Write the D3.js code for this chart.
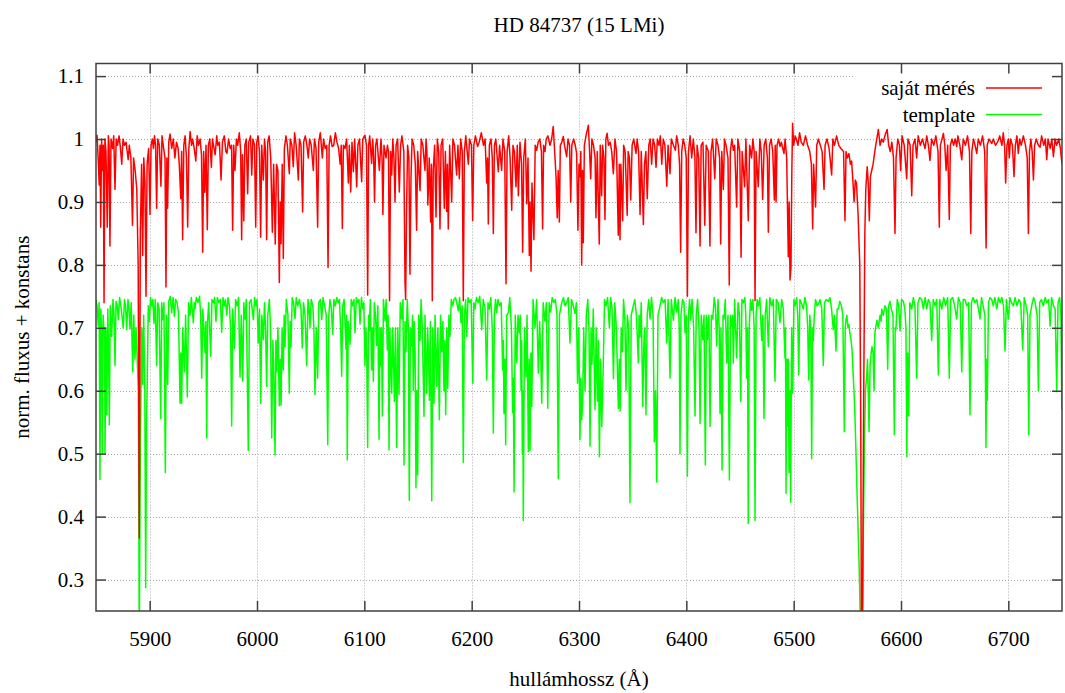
<!DOCTYPE html>
<html>
<head>
<meta charset="utf-8">
<script src="https://cdn.jsdelivr.net/npm/d3@7"></script>
<style>
  body { margin: 0; background: #fff; }
  svg text { font-family: "Liberation Serif", "Times New Roman", serif; fill: #000; }
</style>
</head>
<body>
<div id="chart"></div>
<script>
const title = "HD 84737 (15 LMi)";
const xLabel = "hullámhossz (Å)";
const yLabel = "norm. fluxus + konstans";
const seriesNames = ["saját mérés", "template"];
const xTicks = [5900, 6000, 6100, 6200, 6300, 6400, 6500, 6600, 6700];
const yTicks = [0.3, 0.4, 0.5, 0.6, 0.7, 0.8, 0.9, 1.0, 1.1];
const yTickLabels = ["0.3", "0.4", "0.5", "0.6", "0.7", "0.8", "0.9", "1", "1.1"];

// own measurement: [wavelength, flux]
const ownSpectrum = [[5850,0.995],[5851,1.006],[5852,0.97],[5853,0.927],[5853.7,0.99],[5854.4,0.86],[5855.2,1.0],[5856,0.95],[5856.8,0.99],[5857.5,0.74],[5858.3,1.0],[5859.3,0.98],[5860.5,0.86],[5861.5,1.005],[5862.2,0.99],[5863,0.83],[5864,1.0],[5865.5,0.985],[5866.5,1.005],[5867.7,0.92],[5868.8,1.0],[5870,0.99],[5871.5,1.005],[5872.8,0.985],[5874,0.96],[5875.2,1.0],[5876.5,0.99],[5878,0.995],[5880,0.967],[5881,0.99],[5882.5,0.97],[5884,0.863],[5885,0.97],[5886.5,0.95],[5888,0.92],[5889.3,0.8],[5890.3,0.366],[5891.3,0.85],[5892.5,0.96],[5893.5,0.815],[5894.5,0.97],[5895.6,0.93],[5896.6,0.75],[5897.6,0.96],[5899,0.985],[5900.3,0.88],[5901.3,0.99],[5902.5,1.0],[5903.5,0.985],[5904.5,1.005],[5905.5,0.99],[5906.5,0.89],[5907.5,1.0],[5909,0.99],[5910.5,0.925],[5911.5,1.005],[5913,0.985],[5914.3,0.97],[5915.2,0.765],[5916,0.97],[5916.7,0.89],[5917.8,0.995],[5919,1.008],[5920.5,0.985],[5922,1.0],[5923.5,0.97],[5925,0.995],[5926.5,0.985],[5927.6,0.96],[5929,0.905],[5929.8,0.98],[5930.7,0.84],[5931.8,0.99],[5933,1.005],[5934.3,0.97],[5935.4,0.86],[5936.5,0.985],[5937.7,1.012],[5939,0.99],[5940,1.0],[5941.5,0.985],[5943,0.965],[5944.3,1.005],[5945.5,0.99],[5947,1.0],[5948.3,0.975],[5949.4,0.82],[5950.3,0.98],[5951.4,0.915],[5952.5,0.99],[5953.7,0.856],[5954.7,0.99],[5956,1.0],[5957.5,0.955],[5958.5,1.0],[5960,0.985],[5961,0.975],[5962.5,1.005],[5963.5,0.99],[5965,0.995],[5966.5,0.935],[5967.8,0.995],[5969.5,1.005],[5971,0.98],[5972,0.977],[5973.5,1.0],[5975,0.985],[5976.3,0.99],[5977.3,0.855],[5978.3,0.99],[5979.5,0.95],[5980.8,1.0],[5982,0.99],[5983.5,1.01],[5984.8,0.98],[5985.7,0.84],[5986.5,0.975],[5987.7,0.87],[5988.7,0.99],[5990,1.0],[5991.3,0.913],[5992.3,0.995],[5994,1.005],[5995.1,0.943],[5996.2,1.0],[5997.7,0.99],[5998.8,0.86],[5999.8,0.995],[6001,1.005],[6002.3,0.98],[6003.4,0.844],[6004.4,0.99],[6005.9,0.935],[6007,1.0],[6008,0.98],[6009,0.84],[6010,0.995],[6011.3,1.005],[6012.8,0.97],[6014.3,0.852],[6015.5,0.96],[6017,0.833],[6018.2,0.96],[6019.5,0.95],[6020.8,0.772],[6021.6,0.9],[6022.4,0.834],[6023.5,0.96],[6024.5,0.81],[6025.5,0.985],[6027,1.005],[6028.3,0.99],[6030.1,0.945],[6031,1.0],[6032.5,0.99],[6033.8,0.956],[6035,1.01],[6036.5,0.99],[6038.5,0.935],[6039.5,1.0],[6041,0.99],[6042.5,0.884],[6043.5,0.995],[6045,1.005],[6046.5,0.99],[6047.8,0.97],[6049,1.0],[6050.5,0.99],[6052.5,0.95],[6053.5,1.0],[6055,0.985],[6056.5,0.86],[6057.5,0.995],[6059,1.01],[6060.9,0.97],[6062,1.0],[6063.5,0.985],[6065,0.99],[6066.2,0.796],[6067.2,0.99],[6068.5,1.005],[6070,0.988],[6071.5,0.99],[6073,1.01],[6074.5,0.995],[6076,0.985],[6077.5,0.96],[6078.5,0.99],[6079.5,0.858],[6080.5,0.99],[6082,0.985],[6083.5,1.0],[6085.1,0.93],[6086,0.99],[6087.3,0.916],[6088.5,0.995],[6089.8,0.948],[6091,1.0],[6092.9,0.924],[6094,0.99],[6095.5,1.0],[6097.5,0.932],[6098.5,1.0],[6100.5,1.006],[6102,0.99],[6103.1,0.752],[6104,0.99],[6105,1.005],[6106.8,0.961],[6107.8,1.0],[6108.7,0.97],[6109.5,0.9],[6110.5,0.99],[6111.7,1.0],[6114,0.95],[6115.5,1.0],[6116.5,0.97],[6117.3,0.88],[6118.3,0.99],[6120.2,0.97],[6121.5,0.99],[6122.5,0.98],[6123.5,0.743],[6124.5,0.98],[6125.5,0.943],[6126.5,1.0],[6127.6,0.97],[6128.6,0.9],[6129.6,0.99],[6131,1.0],[6132.6,0.916],[6133.8,0.99],[6135,1.005],[6136.8,0.98],[6137.9,0.772],[6138.5,0.745],[6139.3,0.88],[6140.3,0.99],[6141.5,0.97],[6142.5,0.785],[6143.5,0.94],[6144.5,1.0],[6146,0.99],[6147.5,0.96],[6148.7,0.855],[6149.7,0.98],[6151.9,0.918],[6153,1.0],[6154.5,0.99],[6156.5,0.95],[6157.5,1.0],[6158.3,0.98],[6159.2,0.895],[6160.5,0.97],[6161.8,0.868],[6162.5,0.96],[6163.3,0.743],[6164.2,0.95],[6165.5,0.99],[6166.8,0.876],[6168,1.0],[6169.3,0.98],[6170.5,0.857],[6171.5,0.99],[6173,1.0],[6174.5,0.89],[6175.5,0.98],[6176.7,0.885],[6177.4,0.96],[6178.2,0.857],[6179.5,0.99],[6181.4,0.9],[6182.5,1.0],[6184,0.99],[6186,0.943],[6187.2,0.99],[6188.5,0.937],[6189.8,1.0],[6191.2,0.98],[6192.2,0.743],[6193.2,0.98],[6194.5,1.005],[6196.9,0.96],[6198,1.0],[6199.8,0.99],[6200.9,0.87],[6202,0.99],[6203.5,1.005],[6205.5,0.988],[6207,0.995],[6209,1.01],[6211,0.99],[6212.5,1.0],[6214,0.93],[6214.8,0.97],[6215.5,0.865],[6216.5,0.99],[6218,1.0],[6219.2,0.97],[6220.2,0.85],[6221.2,0.99],[6222.5,1.0],[6224.8,0.948],[6226,0.99],[6227.9,0.95],[6229.2,1.0],[6230.8,0.98],[6232,0.77],[6233,0.98],[6234.5,1.005],[6235.8,0.97],[6237.3,0.887],[6238.5,0.99],[6239.8,0.98],[6241.3,0.924],[6242.5,0.99],[6243.5,0.91],[6245,0.995],[6246.5,0.96],[6247.5,0.82],[6248.5,0.97],[6250,1.0],[6251.3,0.897],[6252.5,0.97],[6253.7,0.815],[6254.4,0.9],[6255.3,0.79],[6256.2,0.93],[6258,0.84],[6259.2,0.99],[6260.5,0.982],[6262,0.995],[6263.5,1.0],[6265,0.98],[6266.1,0.857],[6267,0.99],[6268.3,0.98],[6269.5,1.0],[6271,1.005],[6273,0.99],[6274.5,1.0],[6276,1.02],[6277,0.99],[6278.6,0.94],[6279.7,0.875],[6280.6,0.95],[6281.7,0.868],[6282.6,0.99],[6284,0.995],[6285.4,1.004],[6286.5,0.99],[6288.5,0.972],[6289.8,1.0],[6291.2,0.99],[6292.3,0.9],[6293.3,0.99],[6295,1.0],[6296.5,0.99],[6297.8,0.977],[6299,0.855],[6300,0.96],[6301,0.94],[6301.7,0.98],[6302.5,0.8],[6303.3,0.95],[6304,0.835],[6305,0.99],[6306.5,1.005],[6308.7,1.022],[6309.6,0.99],[6310.9,0.937],[6312,1.0],[6313.5,0.99],[6315,0.97],[6315.8,0.875],[6317,0.98],[6318.9,0.833],[6319.8,0.99],[6321.1,0.91],[6322,0.99],[6323.2,0.97],[6324.2,0.872],[6325,1.0],[6326.2,1.009],[6327.5,0.99],[6329,0.995],[6330.5,0.98],[6332,0.945],[6333.5,1.0],[6335,0.98],[6336.6,0.847],[6337.5,0.96],[6338.2,0.84],[6339,0.96],[6340.7,0.87],[6341.6,0.99],[6343,0.98],[6344.9,0.879],[6345.8,0.98],[6347,0.97],[6348.2,0.903],[6349.5,0.99],[6351,1.0],[6353.1,0.977],[6354.2,1.0],[6355.5,0.98],[6356.9,0.88],[6358,0.98],[6360,0.864],[6361,0.96],[6362.3,0.98],[6363.6,0.905],[6365,0.99],[6366.3,1.0],[6367.7,0.96],[6369,1.0],[6370.5,0.99],[6371.8,0.955],[6373,1.0],[6374.5,0.99],[6375.8,1.005],[6377.1,0.96],[6378.5,1.0],[6380,0.99],[6381.8,0.925],[6383,0.99],[6384.8,0.945],[6386,1.0],[6388,0.99],[6389.8,0.982],[6391,1.005],[6392.5,0.99],[6393.7,0.96],[6394.7,0.82],[6395.7,0.98],[6397,1.0],[6398.5,0.99],[6399.9,0.97],[6401,0.75],[6402,0.98],[6403.5,1.005],[6405,0.97],[6406.5,1.0],[6408,0.97],[6409,0.851],[6410,0.99],[6411.5,0.97],[6412.8,0.83],[6413.8,0.99],[6415.5,0.995],[6417.2,0.863],[6418.5,0.99],[6420.5,0.98],[6422,0.83],[6423,0.98],[6424.5,1.0],[6426.5,0.937],[6427.8,1.0],[6429.5,0.99],[6431,0.97],[6432,0.833],[6433,0.98],[6434.5,0.92],[6435.5,1.0],[6437,0.99],[6438.8,0.97],[6440,0.768],[6441,0.98],[6442.4,1.0],[6443.8,0.982],[6445,0.99],[6446.9,0.892],[6448,1.0],[6449.8,0.98],[6451,0.812],[6452,0.98],[6454.3,0.924],[6455.5,1.0],[6457.7,0.87],[6459,0.99],[6460.8,0.97],[6462,1.0],[6463.2,0.98],[6464,0.743],[6465,0.98],[6467,0.924],[6468.5,1.0],[6469.8,0.98],[6471.1,0.904],[6472.5,0.99],[6474,1.0],[6475.5,0.97],[6476.4,0.852],[6477.5,0.99],[6479,1.0],[6480.5,0.98],[6482,0.903],[6482.8,0.99],[6483.6,0.9],[6484.5,0.99],[6486,1.0],[6487.3,0.988],[6488.5,0.995],[6491,0.977],[6492,1.0],[6493.5,0.97],[6495,0.813],[6495.8,0.9],[6496.6,0.776],[6497.5,0.796],[6498.3,0.95],[6499,1.025],[6500,0.99],[6501.5,1.005],[6502.8,0.998],[6504,0.99],[6505.5,1.01],[6507,0.995],[6509,0.99],[6511,1.005],[6513,0.99],[6515,0.98],[6516.5,0.96],[6517.7,0.857],[6518.6,0.96],[6520.4,0.892],[6521.5,0.99],[6523,1.0],[6524.8,0.99],[6526.5,0.98],[6528.3,0.92],[6529.3,0.99],[6531,1.0],[6533,0.985],[6535.4,0.943],[6536.5,1.0],[6538,0.99],[6540,1.005],[6542,0.99],[6544,0.985],[6546.5,0.98],[6547.8,0.87],[6548.8,0.98],[6550,0.97],[6551.5,0.977],[6552.8,0.96],[6554,0.965],[6555.3,0.93],[6556.3,0.9],[6557.4,0.935],[6558.5,0.93],[6560,0.88],[6561.6,0.8],[6562.5,0.55],[6563.1,0.24],[6564.1,0.23],[6565.3,0.6],[6566.3,0.85],[6567.2,0.92],[6568.5,0.956],[6569.5,0.93],[6570.5,0.87],[6571.5,0.94],[6572.7,0.95],[6574,0.96],[6574.8,0.97],[6576,0.985],[6577.4,1.0],[6578.9,1.015],[6580.5,0.99],[6582,1.0],[6583.5,0.995],[6585,1.005],[6587.1,1.015],[6588.5,0.99],[6590,0.98],[6591.5,0.995],[6593,0.97],[6594.4,0.85],[6595.4,0.97],[6597,1.0],[6598.5,0.99],[6599.7,0.95],[6601,1.005],[6603,0.99],[6605.3,0.937],[6606.5,1.0],[6608.5,0.99],[6610,0.91],[6611.2,0.99],[6613,1.0],[6614.6,0.97],[6616,1.005],[6618,0.99],[6620,1.0],[6622.4,0.985],[6624,1.005],[6625.5,0.99],[6627,0.966],[6628.5,1.0],[6630.5,0.99],[6632.5,1.005],[6634.5,0.98],[6635.7,0.86],[6636.7,0.99],[6639.5,1.009],[6640.8,0.99],[6642,0.95],[6643.5,0.99],[6645,0.872],[6646,0.99],[6647.5,1.0],[6649,0.99],[6650.5,1.0],[6651.9,0.988],[6653,1.005],[6654.8,0.99],[6656.6,0.967],[6658,1.0],[6660,0.99],[6662,1.005],[6663.8,0.98],[6665,0.85],[6666,0.98],[6667.5,1.0],[6669,0.99],[6670.6,0.977],[6672,1.0],[6674,0.99],[6676,1.005],[6678,0.98],[6679.3,0.827],[6680.3,0.99],[6682,1.0],[6684.5,0.993],[6686,1.0],[6688,0.99],[6690,0.995],[6692,1.005],[6694,0.99],[6695.3,1.01],[6696.5,0.99],[6697.5,0.93],[6698.7,0.99],[6700,1.0],[6700.9,0.97],[6702,1.0],[6703.8,0.99],[6705.3,0.94],[6706.5,0.99],[6708,1.005],[6709.3,0.977],[6710.5,1.0],[6712,0.99],[6714,1.005],[6716,0.99],[6717.6,0.97],[6718.7,0.85],[6719.7,0.98],[6721,1.0],[6722.2,0.98],[6723.4,0.935],[6724.5,0.99],[6726,1.0],[6728,0.99],[6729.6,0.987],[6731,1.005],[6733,0.99],[6734.5,1.0],[6735.8,0.967],[6737,1.0],[6739,0.985],[6740.5,1.0],[6742,0.972],[6743.5,1.0],[6745,0.99],[6747,1.0],[6748.5,0.985],[6750,0.96]];

// template spectrum (shifted by a constant): [wavelength, flux]
const templateSpectrum = [[5850,0.745],[5851,0.735],[5852.1,0.703],[5852.9,0.74],[5853.7,0.459],[5854.5,0.73],[5855.2,0.7],[5855.9,0.5],[5856.7,0.72],[5857.5,0.689],[5858,0.7],[5858.4,0.5],[5859.2,0.7],[5860,0.562],[5861,0.73],[5861.7,0.66],[5862.4,0.546],[5863.3,0.735],[5864.6,0.686],[5865.8,0.745],[5866.8,0.72],[5867.7,0.64],[5868.7,0.742],[5869.8,0.735],[5870.8,0.713],[5872,0.748],[5873.5,0.73],[5875.4,0.7],[5876.5,0.745],[5877.5,0.735],[5878.6,0.697],[5879.8,0.745],[5880.8,0.73],[5881.7,0.698],[5882.8,0.74],[5884.2,0.63],[5885.2,0.72],[5886.3,0.65],[5887.3,0.7],[5888.5,0.645],[5889.5,0.6],[5890.3,0.2],[5891.1,0.45],[5891.9,0.6],[5892.6,0.7],[5893.5,0.61],[5894.4,0.72],[5895.5,0.6],[5896.3,0.287],[5897.1,0.55],[5897.8,0.62],[5898.7,0.735],[5899.7,0.71],[5900.8,0.748],[5902,0.735],[5903,0.745],[5904,0.707],[5905.2,0.745],[5906.5,0.64],[5907.5,0.74],[5908.8,0.73],[5910.3,0.556],[5911.2,0.74],[5912.1,0.713],[5913.3,0.74],[5914.6,0.47],[5915.6,0.72],[5916.8,0.61],[5917.8,0.742],[5919.2,0.75],[5920.5,0.724],[5921.8,0.748],[5923,0.718],[5924.2,0.745],[5925.5,0.74],[5926.8,0.725],[5928.3,0.58],[5929,0.66],[5929.8,0.58],[5930.8,0.7],[5932.3,0.63],[5933.5,0.72],[5935.1,0.59],[5936.2,0.74],[5937.6,0.72],[5938.8,0.748],[5940.7,0.708],[5941.5,0.74],[5942.2,0.73],[5943.5,0.748],[5945,0.74],[5946.5,0.75],[5947.5,0.72],[5948.5,0.62],[5949.5,0.73],[5950.5,0.7],[5951.6,0.66],[5952.4,0.71],[5953.1,0.525],[5954,0.71],[5955,0.74],[5956.9,0.655],[5958,0.745],[5959.5,0.74],[5960.5,0.748],[5961.8,0.71],[5963,0.748],[5964.5,0.74],[5965.8,0.745],[5967.1,0.693],[5968.3,0.748],[5969.5,0.735],[5970.6,0.745],[5971.8,0.72],[5973,0.748],[5974.3,0.735],[5975.4,0.7],[5976.4,0.544],[5977.4,0.73],[5978.9,0.667],[5980,0.745],[5981.5,0.735],[5982.8,0.748],[5984.2,0.622],[5985.3,0.72],[5986.7,0.615],[5987.7,0.74],[5988.8,0.714],[5990,0.745],[5991.9,0.505],[5993,0.74],[5994.5,0.745],[5995.5,0.73],[5996.6,0.713],[5997.8,0.748],[5999,0.735],[6000,0.745],[6001.2,0.676],[6002.3,0.73],[6003.5,0.58],[6004.5,0.72],[6005.9,0.681],[6007,0.74],[6008,0.7],[6009,0.607],[6010,0.72],[6011.5,0.745],[6012.6,0.7],[6013.7,0.525],[6014.8,0.68],[6015.8,0.62],[6016.8,0.498],[6017.6,0.68],[6018.3,0.63],[6019.5,0.7],[6020.8,0.576],[6021.6,0.65],[6022.4,0.577],[6023.4,0.7],[6024.5,0.633],[6025.3,0.72],[6026.1,0.67],[6027.3,0.745],[6028.8,0.72],[6030.1,0.596],[6030.9,0.71],[6031.7,0.67],[6032.8,0.748],[6034,0.74],[6035.4,0.715],[6036.6,0.748],[6038,0.735],[6039.5,0.745],[6041,0.73],[6042.2,0.668],[6043.3,0.74],[6044.8,0.72],[6046.3,0.64],[6047.5,0.745],[6048.5,0.73],[6049.4,0.7],[6050.5,0.745],[6052,0.735],[6053,0.7],[6054,0.594],[6055.2,0.7],[6056.5,0.62],[6057.6,0.74],[6059,0.745],[6060.3,0.713],[6061.5,0.748],[6063,0.735],[6064.5,0.72],[6065.9,0.514],[6066.9,0.72],[6068,0.745],[6069.3,0.73],[6070.5,0.69],[6071.6,0.745],[6073,0.735],[6074.3,0.748],[6075.5,0.74],[6076.8,0.745],[6077.9,0.7],[6078.9,0.623],[6079.9,0.735],[6081.2,0.745],[6082.9,0.666],[6083.5,0.72],[6084.1,0.49],[6085,0.71],[6086.7,0.674],[6087.8,0.745],[6089.2,0.735],[6090.3,0.745],[6091.3,0.692],[6092.5,0.748],[6094,0.74],[6095,0.745],[6096,0.706],[6097.3,0.748],[6098.5,0.73],[6099.5,0.74],[6100.6,0.64],[6101.5,0.7],[6102.3,0.65],[6103.1,0.51],[6103.9,0.72],[6104.6,0.695],[6105.6,0.745],[6106.8,0.633],[6107.6,0.7],[6108.4,0.615],[6109.3,0.74],[6110.4,0.72],[6111.5,0.672],[6112.6,0.735],[6113.7,0.523],[6114.5,0.7],[6115.3,0.64],[6116,0.7],[6116.8,0.56],[6117.8,0.745],[6119.3,0.711],[6120.3,0.745],[6121.4,0.665],[6122.2,0.72],[6123,0.506],[6123.8,0.7],[6124.6,0.64],[6125.5,0.596],[6126.3,0.7],[6127.2,0.65],[6128,0.583],[6129,0.7],[6130.1,0.51],[6131.2,0.7],[6132.3,0.594],[6133.5,0.74],[6134.8,0.714],[6136,0.745],[6137,0.482],[6137.9,0.71],[6138.8,0.662],[6140,0.745],[6141,0.7],[6141.9,0.426],[6142.9,0.7],[6144.1,0.671],[6144.9,0.72],[6145.6,0.6],[6146.5,0.71],[6147.3,0.66],[6148.1,0.446],[6148.9,0.6],[6149.7,0.466],[6150.7,0.72],[6151.9,0.68],[6152.9,0.745],[6154,0.7],[6155.6,0.559],[6156.5,0.72],[6157.3,0.65],[6158.1,0.596],[6159,0.7],[6159.8,0.66],[6160.6,0.585],[6161.6,0.71],[6162.8,0.425],[6163.8,0.7],[6164.9,0.58],[6165.9,0.72],[6167.4,0.607],[6168.5,0.7],[6169.9,0.554],[6171,0.72],[6172.1,0.662],[6173.2,0.71],[6174.2,0.6],[6175,0.68],[6175.8,0.562],[6176.8,0.7],[6177.7,0.604],[6178.8,0.72],[6179.8,0.686],[6181,0.745],[6182.4,0.735],[6183.6,0.745],[6185,0.748],[6186.3,0.738],[6187.6,0.727],[6188.8,0.748],[6190.1,0.708],[6191.2,0.735],[6192.2,0.486],[6193.2,0.72],[6194.4,0.745],[6195.4,0.686],[6196.6,0.748],[6198,0.74],[6199.5,0.745],[6201,0.612],[6202,0.74],[6203.1,0.73],[6204.5,0.748],[6206,0.74],[6207.5,0.75],[6209.4,0.697],[6210.8,0.745],[6212.5,0.73],[6214,0.617],[6215.2,0.74],[6216.5,0.73],[6217.8,0.748],[6219.2,0.7],[6220.2,0.533],[6221.2,0.72],[6222.2,0.745],[6223.3,0.724],[6224.5,0.745],[6226,0.735],[6227.5,0.74],[6228.9,0.633],[6229.5,0.68],[6230.1,0.564],[6230.9,0.65],[6231.7,0.514],[6232.6,0.72],[6234.2,0.724],[6235.5,0.748],[6237,0.7],[6238.2,0.565],[6238.8,0.62],[6239.5,0.439],[6240.6,0.72],[6242,0.644],[6243.2,0.72],[6244.4,0.692],[6245.2,0.72],[6246,0.6],[6246.6,0.68],[6247.2,0.5],[6247.7,0.6],[6248.1,0.394],[6249.2,0.7],[6250.6,0.622],[6251.6,0.72],[6252.8,0.503],[6253.6,0.65],[6254.4,0.505],[6255.2,0.66],[6256,0.575],[6257.2,0.745],[6259,0.7],[6260.5,0.745],[6262.1,0.628],[6263.3,0.71],[6264.3,0.66],[6265.3,0.58],[6266.6,0.74],[6268.3,0.71],[6269.6,0.74],[6270.9,0.572],[6272.2,0.74],[6273.6,0.725],[6275,0.748],[6276.5,0.74],[6278,0.745],[6279.5,0.72],[6280.7,0.46],[6281.8,0.72],[6283.9,0.74],[6285.5,0.748],[6287,0.735],[6288.5,0.74],[6290,0.748],[6291.6,0.676],[6293,0.745],[6294.7,0.735],[6296.3,0.723],[6297.6,0.74],[6298.6,0.612],[6299.8,0.7],[6300.9,0.522],[6301.7,0.62],[6302.5,0.554],[6303.4,0.58],[6304.4,0.7],[6305.6,0.6],[6306.8,0.72],[6308.2,0.745],[6309.3,0.7],[6310.3,0.512],[6311.2,0.7],[6312.1,0.642],[6313.3,0.73],[6314.9,0.57],[6316,0.7],[6317.1,0.583],[6318.1,0.68],[6319,0.495],[6320.1,0.65],[6321.2,0.543],[6322.7,0.648],[6323.8,0.745],[6325.2,0.735],[6326.6,0.748],[6328.3,0.7],[6329.5,0.748],[6330.8,0.73],[6332.1,0.619],[6333.3,0.74],[6334.8,0.7],[6336.7,0.572],[6337.5,0.65],[6338.3,0.568],[6339.3,0.7],[6340.4,0.662],[6341.5,0.745],[6342.8,0.71],[6343.8,0.6],[6345,0.72],[6346.3,0.7],[6347.5,0.422],[6348.6,0.72],[6350.6,0.735],[6352,0.745],[6353.5,0.72],[6355.3,0.644],[6356,0.72],[6356.9,0.685],[6358,0.74],[6359.4,0.575],[6360.5,0.68],[6361.3,0.7],[6362.4,0.562],[6363.5,0.72],[6365,0.745],[6366.2,0.714],[6367.5,0.748],[6369,0.72],[6370.2,0.519],[6371.3,0.6],[6372.4,0.455],[6373.6,0.72],[6375.5,0.735],[6377,0.748],[6378.6,0.74],[6380.2,0.745],[6381.7,0.676],[6383,0.745],[6384.8,0.62],[6386,0.745],[6387.9,0.712],[6389.5,0.748],[6391.1,0.725],[6392.5,0.745],[6393.4,0.7],[6394.1,0.5],[6395,0.72],[6396.5,0.745],[6397.8,0.74],[6398.8,0.692],[6399.9,0.72],[6401,0.464],[6402,0.72],[6403,0.745],[6404.1,0.712],[6405.3,0.745],[6406.8,0.7],[6408.1,0.56],[6409.2,0.72],[6410.5,0.745],[6411.8,0.7],[6412.8,0.548],[6413.9,0.72],[6415.3,0.681],[6416.5,0.72],[6417.7,0.482],[6418.7,0.72],[6419.6,0.681],[6421,0.72],[6422.1,0.543],[6423.3,0.72],[6424.6,0.714],[6426,0.748],[6427.2,0.73],[6428.3,0.671],[6429.5,0.745],[6430.6,0.7],[6431.4,0.564],[6432.3,0.7],[6433.3,0.474],[6434.2,0.72],[6435.1,0.714],[6436.3,0.745],[6437.6,0.644],[6438.8,0.72],[6440.1,0.458],[6441.2,0.72],[6442.3,0.703],[6443.1,0.72],[6443.8,0.644],[6445,0.745],[6446.9,0.652],[6448.2,0.74],[6449.5,0.72],[6450.7,0.583],[6451.8,0.745],[6453.1,0.74],[6454.5,0.748],[6455.4,0.72],[6456.2,0.62],[6457,0.7],[6457.7,0.389],[6458.6,0.7],[6459.8,0.745],[6460.9,0.728],[6462,0.745],[6463.2,0.7],[6464,0.394],[6465,0.72],[6466,0.745],[6467.1,0.735],[6468.5,0.748],[6470.2,0.68],[6471.3,0.72],[6472.4,0.556],[6473.5,0.72],[6474.8,0.745],[6476.4,0.67],[6477.8,0.748],[6479.5,0.735],[6481,0.745],[6482.6,0.615],[6483.8,0.745],[6485.5,0.74],[6487.3,0.708],[6488.8,0.745],[6490.3,0.73],[6491.9,0.652],[6492.4,0.7],[6492.9,0.437],[6493.6,0.65],[6494.4,0.544],[6495,0.65],[6495.7,0.47],[6496.4,0.6],[6497.2,0.423],[6498.1,0.7],[6499.1,0.596],[6500.2,0.745],[6501.3,0.735],[6502.8,0.748],[6503.8,0.72],[6504.7,0.625],[6505.8,0.745],[6507.5,0.738],[6509,0.73],[6510.5,0.748],[6512,0.735],[6513.1,0.7],[6514,0.617],[6515,0.72],[6515.9,0.7],[6516.8,0.492],[6517.6,0.7],[6518.3,0.68],[6519.2,0.72],[6520.4,0.745],[6521.8,0.735],[6523,0.737],[6524.5,0.745],[6526.2,0.73],[6527.6,0.64],[6528.7,0.74],[6530.5,0.745],[6532.3,0.742],[6533.8,0.748],[6535.3,0.73],[6536.9,0.697],[6537.9,0.72],[6539.5,0.663],[6540.5,0.73],[6541.6,0.73],[6543,0.742],[6544.5,0.735],[6545.8,0.72],[6547.2,0.535],[6548,0.7],[6548.8,0.713],[6549.6,0.72],[6550.6,0.7],[6551.5,0.705],[6552.5,0.69],[6553.5,0.68],[6554.4,0.665],[6555.3,0.63],[6556.2,0.6],[6557.1,0.56],[6558.1,0.5],[6559,0.44],[6559.7,0.4],[6560.4,0.357],[6561.3,0.3],[6562.3,0.22],[6563.2,0.2],[6564.1,0.22],[6565.1,0.4],[6566,0.52],[6566.9,0.6],[6567.9,0.62],[6568.8,0.65],[6569.5,0.6],[6570.2,0.535],[6571.2,0.64],[6572.2,0.66],[6573,0.67],[6574,0.66],[6574.9,0.6],[6575.6,0.69],[6576.3,0.7],[6577.7,0.712],[6578.8,0.7],[6580.5,0.72],[6581.5,0.71],[6582,0.73],[6583.5,0.72],[6585.1,0.735],[6586.5,0.73],[6587.6,0.634],[6588.6,0.735],[6589.7,0.742],[6591,0.73],[6592.5,0.72],[6593.8,0.53],[6594.6,0.7],[6595.3,0.697],[6596.5,0.745],[6597.8,0.735],[6599.1,0.695],[6600.5,0.745],[6602.2,0.742],[6603.6,0.73],[6604.6,0.7],[6605.4,0.495],[6606.2,0.66],[6607.2,0.56],[6608.2,0.74],[6610,0.73],[6611.5,0.748],[6613,0.735],[6614.6,0.62],[6615.8,0.74],[6617.5,0.748],[6619.3,0.745],[6620.8,0.73],[6622.5,0.748],[6624,0.73],[6625.5,0.745],[6627,0.74],[6628.6,0.68],[6630,0.745],[6631.7,0.735],[6633.3,0.745],[6634.8,0.625],[6636,0.745],[6638,0.73],[6639.8,0.748],[6641.5,0.735],[6643.5,0.748],[6645,0.62],[6646.3,0.745],[6648.2,0.748],[6650,0.735],[6651.9,0.714],[6653.5,0.748],[6655.2,0.74],[6656.6,0.63],[6657.9,0.745],[6659.6,0.745],[6661.2,0.735],[6663,0.74],[6664.3,0.562],[6665.6,0.74],[6667.2,0.748],[6668.9,0.74],[6670.5,0.745],[6672.2,0.73],[6673.6,0.714],[6675,0.748],[6676.5,0.735],[6678.2,0.72],[6679.2,0.51],[6679.8,0.65],[6680.4,0.585],[6681.5,0.74],[6683,0.748],[6684.5,0.745],[6686,0.735],[6687.5,0.748],[6689.2,0.73],[6690.8,0.748],[6692.3,0.74],[6694,0.748],[6695.5,0.735],[6696.9,0.663],[6698.2,0.745],[6700,0.714],[6701.5,0.748],[6703,0.74],[6704.7,0.735],[6706.3,0.748],[6708,0.735],[6709.7,0.745],[6711.5,0.74],[6713.4,0.665],[6714.8,0.748],[6716.5,0.735],[6718,0.72],[6719,0.53],[6720.2,0.72],[6721.8,0.735],[6723.5,0.748],[6725,0.74],[6726.8,0.72],[6728,0.6],[6729.2,0.74],[6730.8,0.745],[6732.6,0.735],[6734.3,0.748],[6736,0.74],[6737.5,0.745],[6738.9,0.703],[6740.3,0.748],[6742,0.735],[6743.6,0.73],[6745.1,0.6],[6746.3,0.74],[6747.8,0.748],[6749,0.72],[6749.8,0.57]];

const width = 1065;
const height = 693;
const margin = { top: 63.5, right: 3, bottom: 82, left: 96 };
const plotW = width - margin.left - margin.right;
const plotH = height - margin.top - margin.bottom;

const svg = d3
  .select("#chart")
  .append("svg")
  .attr("width", width)
  .attr("height", height);

const xScale = d3.scaleLinear().domain([5850, 6750]).range([margin.left, width - margin.right]);
const yScale = d3.scaleLinear().domain([0.25, 1.12]).range([height - margin.bottom, margin.top]);

svg.append("defs").append("clipPath").attr("id", "plotclip")
  .append("rect")
  .attr("x", margin.left).attr("y", margin.top)
  .attr("width", plotW).attr("height", plotH);

// grid
const grid = svg.append("g").attr("stroke", "#a8a8a8").attr("stroke-width", 1).attr("stroke-dasharray", "1,2");
grid.selectAll("line.gx").data(xTicks).enter().append("line")
  .attr("x1", (d) => Math.round(xScale(d)) + 0.5).attr("x2", (d) => Math.round(xScale(d)) + 0.5)
  .attr("y1", margin.top).attr("y2", height - margin.bottom);
grid.selectAll("line.gy").data(yTicks).enter().append("line")
  .attr("x1", margin.left).attr("x2", width - margin.right)
  .attr("y1", (d) => Math.round(yScale(d)) + 0.5).attr("y2", (d) => Math.round(yScale(d)) + 0.5);

// opaque key box
svg.append("rect")
  .attr("x", 853).attr("y", margin.top)
  .attr("width", width - margin.right - 853).attr("height", 64)
  .attr("fill", "#fff");

const line = d3.line().x((d) => xScale(d[0])).y((d) => yScale(d[1]));

const plots = svg.append("g").attr("clip-path", "url(#plotclip)").attr("fill", "none");
plots.append("path").datum(templateSpectrum)
  .attr("d", line).attr("stroke", "#00ff00").attr("stroke-width", 1.5).attr("stroke-linejoin", "round");
plots.append("path").datum(ownSpectrum)
  .attr("d", line).attr("stroke", "#ff0000").attr("stroke-width", 1.5).attr("stroke-linejoin", "round");

// axes with inward ticks
const axisColor = "#404040";
const fontSize = "21px";

const xAxis = d3.axisBottom(xScale).tickValues(xTicks).tickSize(-10).tickPadding(20).tickFormat(d3.format("d"));
const gx = svg.append("g").attr("transform", `translate(0, ${height - margin.bottom})`).call(xAxis);
const gxTop = svg.append("g").attr("transform", `translate(0, ${margin.top})`)
  .call(d3.axisTop(xScale).tickValues(xTicks).tickSize(-10).tickFormat(""));

const yAxis = d3.axisLeft(yScale).tickValues(yTicks).tickSize(-10).tickPadding(12)
  .tickFormat((d, i) => yTickLabels[i]);
const gy = svg.append("g").attr("transform", `translate(${margin.left}, 0)`).call(yAxis);
const gyRight = svg.append("g").attr("transform", `translate(${width - margin.right}, 0)`)
  .call(d3.axisRight(yScale).tickValues(yTicks).tickSize(-10).tickFormat(""));

[gx, gxTop, gy, gyRight].forEach((g) => {
  g.select(".domain").remove();
  g.selectAll(".tick line").attr("stroke", axisColor).attr("stroke-width", 1.5);
  g.selectAll(".tick text").attr("fill", "#000").style("font-size", fontSize)
    .style("font-family", '"Liberation Serif", serif');
});

svg.append("rect")
  .attr("x", margin.left).attr("y", margin.top)
  .attr("width", plotW).attr("height", plotH)
  .attr("fill", "none").attr("stroke", axisColor).attr("stroke-width", 1.5);

// title and axis labels
svg.append("text").attr("x", (margin.left + width - margin.right) / 2).attr("y", 32)
  .attr("text-anchor", "middle").style("font-size", fontSize).text(title);
svg.append("text").attr("x", (margin.left + width - margin.right) / 2).attr("y", 686)
  .attr("text-anchor", "middle").style("font-size", fontSize).text(xLabel);
svg.append("text")
  .attr("transform", `translate(29, ${(margin.top + height - margin.bottom) / 2}) rotate(-90)`)
  .attr("text-anchor", "middle").style("font-size", fontSize).text(yLabel);

// key
const keyColors = ["#ff0000", "#00ff00"];
const keyRows = [88, 114.5];
seriesNames.forEach((name, i) => {
  svg.append("text").attr("x", 975).attr("y", keyRows[i]).attr("dy", "0.35em")
    .attr("text-anchor", "end").style("font-size", fontSize).text(name);
  svg.append("line").attr("x1", 986).attr("x2", 1042)
    .attr("y1", keyRows[i]).attr("y2", keyRows[i])
    .attr("stroke", keyColors[i]).attr("stroke-width", 1.5);
});
</script>
</body>
</html>
